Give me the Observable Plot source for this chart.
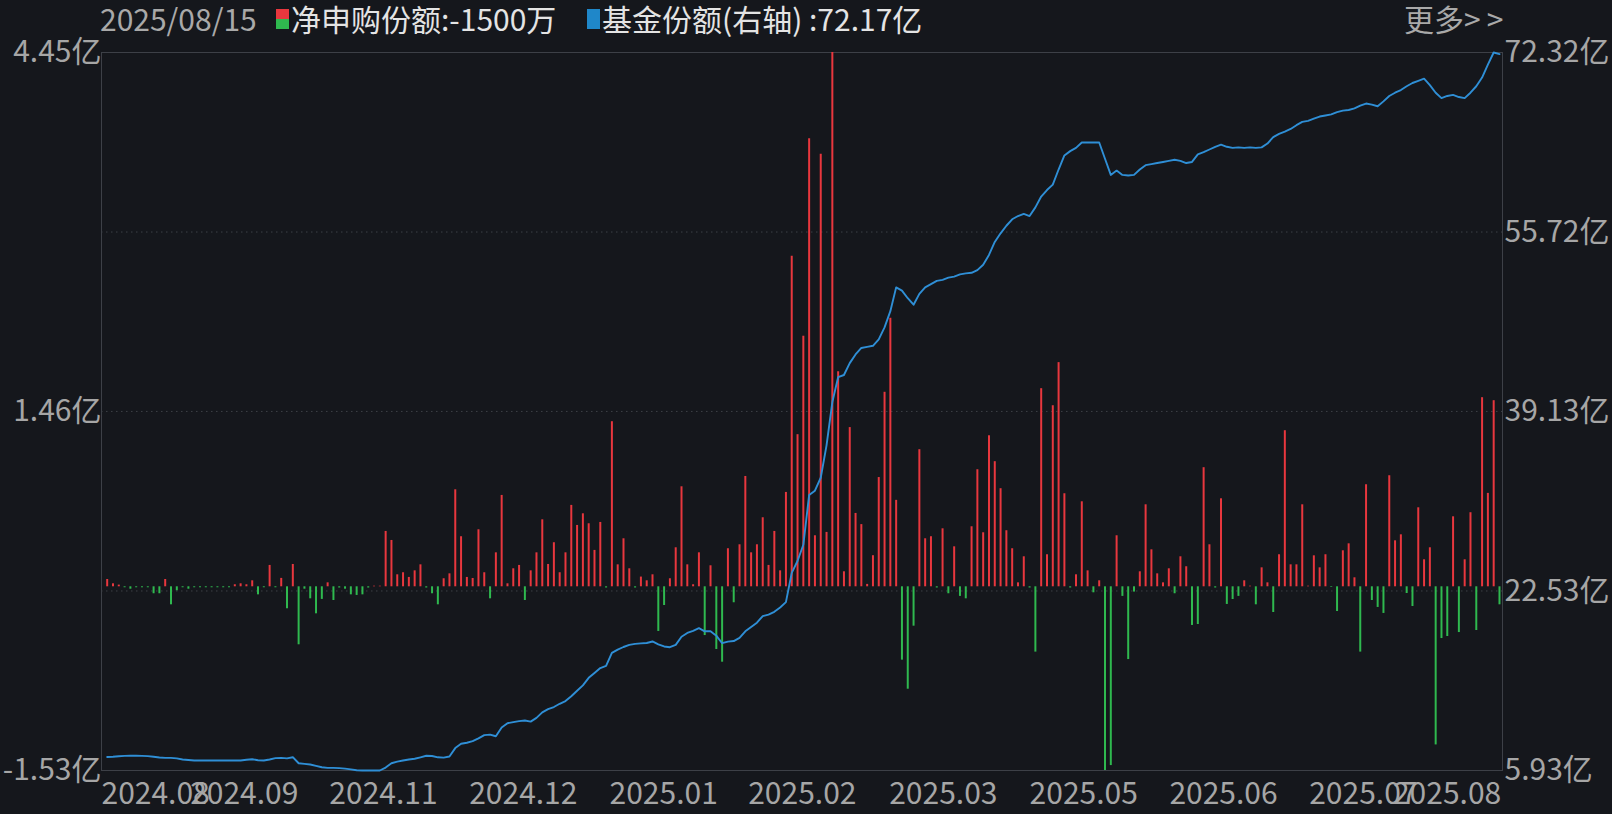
<!DOCTYPE html>
<html><head><meta charset="utf-8">
<script src="https://cdn.jsdelivr.net/npm/d3@7"></script>
<script src="https://cdn.jsdelivr.net/npm/@observablehq/plot@0.6"></script>
<style>
html,body{margin:0;padding:0;background:#15171c;}
#wrap{position:relative;width:1612px;height:814px;overflow:hidden;background:#15171c;}
#legend{position:absolute;top:0;left:0;width:1612px;height:44px;font-family:"Noto Sans CJK SC","Noto Sans",sans-serif;font-size:30px;line-height:36px;}
#legend span{position:absolute;top:0;white-space:nowrap;}
.ico{position:absolute;width:13px;}
#chart{position:absolute;top:0;left:0;}
</style></head>
<body><div id="wrap"><div id="chart"></div><div id="legend">
<span style="left:100px;color:#a9a9a9">2025/08/15</span>
<div class="ico" style="left:276px;top:9px;height:10px;background:#e8373e"></div>
<div class="ico" style="left:276px;top:19px;height:10px;background:#2fb94f"></div>
<span style="left:291px;color:#e4e4e4">净申购份额:-1500万</span>
<div class="ico" style="left:587px;top:9px;height:20px;background:#1f87c9"></div>
<span style="left:602px;color:#e4e4e4">基金份额(右轴) :72.17亿</span>
<span style="left:1404px;color:#a9a9a9">更多<span style="position:static;letter-spacing:6px">&gt;&gt;</span></span>
</div></div>
<script>
// 净申购份额 (亿), one per trading day
const flows = [0.061,0.025,0.014,-0.008,-0.02,-0.008,-0.008,-0.008,-0.058,-0.058,
0.061,-0.15,-0.033,-0.008,-0.02,-0.008,-0.008,-0.008,-0.008,-0.008,
-0.008,-0.008,0.017,0.025,0.017,0.05,-0.067,-0.008,0.178,-0.008,
0.07,-0.183,0.186,-0.483,-0.02,-0.1,-0.225,-0.105,0.033,-0.114,
-0.01,-0.02,-0.067,-0.072,-0.067,-0.01,0.005,0.005,0.461,0.386,
0.1,0.117,0.078,0.133,0.183,-0.01,-0.058,-0.15,0.067,0.108,
0.808,0.417,0.078,0.069,0.475,0.117,-0.1,0.283,0.761,0.025,
0.15,0.178,-0.114,0.133,0.283,0.558,0.186,0.367,0.117,0.283,
0.678,0.511,0.608,0.525,0.303,0.536,-0.01,1.375,0.183,0.4,
0.15,-0.01,0.081,0.05,0.1,-0.372,-0.156,0.067,0.325,0.833,
0.183,0.017,0.283,-0.406,0.175,-0.522,-0.628,0.317,-0.133,0.35,
0.919,0.283,0.35,0.575,0.178,0.461,0.133,0.786,2.754,1.267,
2.087,3.732,0.425,3.603,0.453,4.45,1.791,0.125,1.326,0.611,
0.518,0.02,0.259,0.91,1.62,2.236,0.72,-0.611,-0.853,-0.328,
1.142,0.4,0.417,-0.01,0.483,-0.058,0.333,-0.08,-0.1,0.5,
0.975,0.45,1.258,1.042,0.817,0.467,0.317,0.033,0.25,-0.01,
-0.544,1.65,0.267,1.508,1.867,0.775,-0.01,0.1,0.708,0.133,
-0.05,0.05,-1.53,-1.489,0.425,-0.08,-0.606,-0.044,0.125,0.683,
0.308,0.108,0.033,0.15,-0.058,0.25,0.167,-0.322,-0.314,0.992,
0.35,-0.01,0.733,-0.147,-0.106,-0.08,0.05,0.005,-0.15,0.158,
0.033,-0.214,0.267,1.3,0.183,0.183,0.683,0.005,0.258,0.158,
0.267,-0.005,-0.206,0.3,0.358,0.075,-0.544,0.85,-0.114,-0.172,
-0.222,0.925,0.383,0.433,-0.056,-0.164,0.658,0.225,0.325,-1.317,
-0.431,-0.414,0.583,-0.381,0.225,0.617,-0.364,1.575,0.778,1.55,
-0.15];
// 基金份额 (亿), right axis
const shares = [7.18,7.2,7.25,7.28,7.29,7.29,7.28,7.26,7.2,7.13,
7.1,7.1,7.05,6.95,6.9,6.85,6.85,6.85,6.85,6.85,
6.85,6.85,6.85,6.85,6.92,6.97,6.88,6.85,6.95,7.07,
7.1,7.05,7.16,6.6,6.54,6.48,6.36,6.23,6.17,6.17,
6.15,6.1,6.03,5.95,5.93,5.93,5.93,5.93,6.2,6.6,
6.75,6.85,6.95,7.02,7.15,7.29,7.27,7.15,7.12,7.22,
8.0,8.4,8.5,8.64,8.9,9.2,9.25,9.1,9.9,10.3,
10.4,10.5,10.55,10.45,10.8,11.3,11.6,11.8,12.1,12.35,
12.8,13.3,13.8,14.5,14.95,15.4,15.6,16.8,17.1,17.35,
17.55,17.64,17.68,17.72,17.86,17.6,17.4,17.33,17.55,18.3,
18.65,18.85,19.09,18.8,18.8,18.4,17.7,17.85,17.9,18.2,
18.8,19.2,19.6,20.2,20.35,20.6,21.0,21.5,24.2,25.3,
26.8,31.4,31.8,33.0,36.0,40.0,42.3,42.5,43.6,44.4,
45.0,45.1,45.2,45.8,46.9,48.4,50.6,50.3,49.6,49.0,
50.0,50.6,50.9,51.2,51.3,51.5,51.6,51.8,51.9,51.95,
52.2,52.7,53.6,54.8,55.6,56.3,56.9,57.2,57.4,57.2,
58.0,59.0,59.6,60.1,61.5,62.8,63.2,63.5,64.0,64.0,
64.0,64.0,62.5,61.0,61.4,61.0,60.95,61.0,61.5,61.9,
62.0,62.1,62.2,62.3,62.4,62.3,62.1,62.2,62.9,63.1,
63.35,63.6,63.8,63.6,63.5,63.55,63.5,63.55,63.5,63.55,
63.9,64.5,64.8,65.0,65.25,65.6,65.9,66.0,66.2,66.4,
66.5,66.6,66.8,66.95,67.0,67.15,67.4,67.6,67.5,67.35,
67.8,68.3,68.6,68.85,69.2,69.5,69.7,69.9,69.3,68.6,
68.1,68.3,68.4,68.2,68.1,68.6,69.2,70.0,71.2,72.32,
72.17];
const leftTicks = [4.45, 1.46, -1.53];
const leftLabels = ["4.45亿", "1.46亿", "-1.53亿"];
const rightTicks = [72.32, 55.72, 39.13, 22.53, 5.93];
const rightLabels = ["72.32亿", "55.72亿", "39.13亿", "22.53亿", "5.93亿"];
const xTickPos = [-0.98, 14.3, 38.3, 62.4, 86.6, 110.5, 134.8, 159, 183.1, 207.2];
const xTickLabels = ["2024.08", "2024.09", "2024.11", "2024.12", "2025.01", "2025.02", "2025.03", "2025.05", "2025.06", "2025.07"];
const lastTickPos = [240.3];
const lastTickLabels = ["2025.08"];

const yMin = -1.53, yMax = 4.45, rMin = 5.93, rMax = 72.32;
const toLeft = v => yMin + (v - rMin) * (yMax - yMin) / (rMax - rMin);
const rightPos = rightTicks.map(toLeft);

const bars = flows.map((v, i) => ({i, v}));
const line = shares.map((v, i) => ({i, v: toLeft(v)}));
const lookup = (pos, labels) => d => labels[pos.findIndex(p => Math.abs(p - d) < 1e-6)];

const RED = "#e8373e", GREEN = "#2fb94f", BLUE = "#2f8fd6", GRID = "#3d4047";

const chart = Plot.plot({
  width: 1612, height: 814,
  marginTop: 52, marginBottom: 44, marginLeft: 101, marginRight: 110,
  style: {background: "#15171c", color: "#a6a6a6", fontSize: "30px", fontFamily: "'Noto Sans CJK SC','Noto Sans',sans-serif"},
  x: {type: "linear", domain: [-0.98, 240.52], label: null},
  y: {domain: [yMin, yMax], label: null},
  marks: [
    Plot.ruleY([rightPos[1], rightPos[2], rightPos[3]], {stroke: GRID, strokeDasharray: "1.5,3.5"}),
    Plot.frame({stroke: GRID}),
    Plot.ruleX(bars, {x: "i", y1: 0, y2: "v", stroke: d => d.v >= 0 ? RED : GREEN, strokeWidth: 2}),
    Plot.line(line, {x: "i", y: "v", stroke: BLUE, strokeWidth: 1.9}),
    Plot.axisY(leftTicks, {anchor: "left", label: null, tickSize: 0, tickPadding: 0, tickFormat: lookup(leftTicks, leftLabels)}),
    Plot.axisY(rightPos, {anchor: "right", label: null, tickSize: 0, tickPadding: 2, tickFormat: lookup(rightPos, rightLabels)}),
    Plot.axisX(xTickPos, {anchor: "bottom", label: null, tickSize: 0, tickPadding: 12, textAnchor: "start", tickFormat: lookup(xTickPos, xTickLabels)}),
    Plot.axisX(lastTickPos, {anchor: "bottom", label: null, tickSize: 0, tickPadding: 12, textAnchor: "end", tickFormat: lookup(lastTickPos, lastTickLabels)})
  ]
});
document.getElementById("chart").appendChild(chart);
</script>
</body></html>
